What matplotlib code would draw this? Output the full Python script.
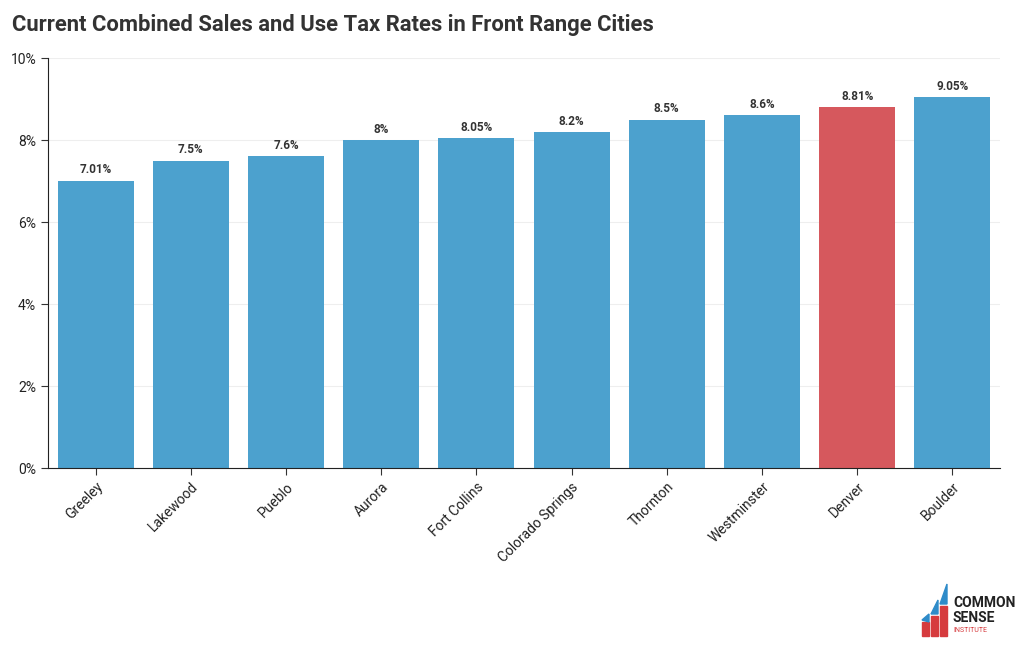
import matplotlib.pyplot as plt
from matplotlib.ticker import FuncFormatter
from matplotlib.patches import Polygon, Rectangle

plt.rcParams['font.family'] = ['Roboto', 'DejaVu Sans']

cities = ['Greeley', 'Lakewood', 'Pueblo', 'Aurora', 'Fort Collins',
          'Colorado Springs', 'Thornton', 'Westminster', 'Denver', 'Boulder']
rates = [7.01, 7.5, 7.6, 8.0, 8.05, 8.2, 8.5, 8.6, 8.81, 9.05]
labels = ['7.01%', '7.5%', '7.6%', '8%', '8.05%', '8.2%', '8.5%', '8.6%', '8.81%', '9.05%']
highlight = 'Denver'

blue = '#4CA1CE'
red = '#D6585D'
colors = [red if c == highlight else blue for c in cities]

fig = plt.figure(figsize=(10.2, 6.5), dpi=100)
ax = fig.add_axes([48 / 1020, 1 - 468 / 650, 952 / 1020, 410 / 650])

x = range(len(cities))
ax.bar(x, rates, width=0.8, color=colors, zorder=2)
for i, (r, lab) in enumerate(zip(rates, labels)):
    ax.text(i, r + 0.1, lab, ha='center', va='bottom', fontsize=8.5,
            fontweight='bold', color='#333333')

ax.set_xlim(-0.5, len(cities) - 0.5)
ax.set_ylim(0, 10)
ax.set_yticks([0, 2, 4, 6, 8, 10])
ax.yaxis.set_major_formatter(FuncFormatter(lambda v, p: f'{v:.0f}%'))
ax.set_xticks(list(x))
ax.set_xticklabels(cities, rotation=45, ha='right', rotation_mode='anchor',
                   fontsize=10, color='#222222')
ax.tick_params(axis='y', labelsize=10, labelcolor='#222222', length=5, color='#333333')
ax.tick_params(axis='x', length=5, color='#333333')
ax.grid(axis='y', color='#eeeeee', linewidth=0.8, zorder=0)
for s in ['top', 'right']:
    ax.spines[s].set_visible(False)
for s in ['left', 'bottom']:
    ax.spines[s].set_color('#222222')

fig.text(12 / 1020, 1 - 25 / 650, 'Current Combined Sales and Use Tax Rates in Front Range Cities',
         fontsize=15.8, fontweight='bold', color='#333333', va='center', ha='left')

# logo
lg = fig.add_axes([918 / 1020, 1 - 640 / 650, 100 / 1020, 60 / 650])
lg.set_xlim(0, 100)
lg.set_ylim(0, 60)
lg.axis('off')
lg.add_patch(Rectangle((4, 4), 7, 14, color='#D63B3E'))
lg.add_patch(Rectangle((13, 4), 7, 20, color='#D63B3E'))
lg.add_patch(Rectangle((22, 4), 7, 30, color='#D63B3E'))
lg.add_patch(Polygon([(4, 20), (11, 26), (11, 18)], color='#2E8BC9'))
lg.add_patch(Polygon([(13, 26), (20, 40), (20, 26)], color='#2E8BC9'))
lg.add_patch(Polygon([(22, 36), (29, 56), (29, 36)], color='#2E8BC9'))
lg.text(35, 37, 'COMMON', fontsize=10, fontweight='bold', color='#222222', va='center')
lg.text(35, 22, 'SENSE', fontsize=10, fontweight='bold', color='#222222', va='center')
lg.text(35, 9, 'INSTITUTE', fontsize=5, color='#D63B3E', va='center')

fig.savefig('out.png', dpi=100)
